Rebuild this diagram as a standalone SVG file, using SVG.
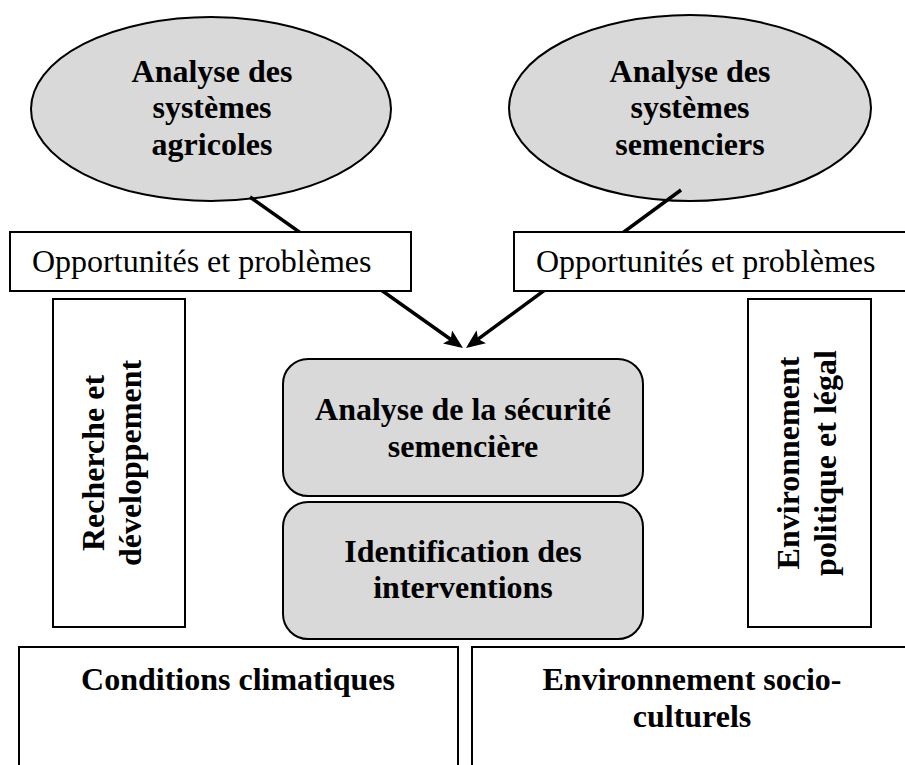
<svg xmlns="http://www.w3.org/2000/svg" width="905" height="765" viewBox="0 0 905 765">
<style>
.b{font-family:"Liberation Serif","Times New Roman",serif;font-weight:bold;font-size:32px;fill:#000;text-anchor:middle}
.r{font-family:"Liberation Serif","Times New Roman",serif;font-size:32px;fill:#000}
.oval{fill:#d9d9d9;stroke:#000;stroke-width:2}
.box{fill:#fff;stroke:#000;stroke-width:2}
.rr{fill:#d9d9d9;stroke:#000;stroke-width:2}
.con{stroke:#000;stroke-width:3.5;fill:none}
</style>
<defs>
<marker id="ah" viewBox="0 0 19 16" refX="15" refY="8" markerWidth="19" markerHeight="16" orient="auto" markerUnits="userSpaceOnUse">
<path d="M0,0 L19,8 L0,16 L4,8 z" fill="#000"/>
</marker>
</defs>
<rect width="905" height="765" fill="#fff"/>
<g id="n-agricoles">
<ellipse class="oval" cx="211" cy="109" rx="180" ry="92"/>
<text class="b" x="212" y="82">Analyse des</text>
<text class="b" x="212" y="118">systèmes</text>
<text class="b" x="212" y="155">agricoles</text>
</g>
<g id="n-semenciers">
<ellipse class="oval" cx="690" cy="108" rx="181" ry="93"/>
<text class="b" x="690" y="82">Analyse des</text>
<text class="b" x="690" y="118">systèmes</text>
<text class="b" x="690" y="155">semenciers</text>
</g>
<g id="connectors">
<line class="con" x1="250" y1="197" x2="459.7" y2="345.7" marker-end="url(#ah)"/>
<line class="con" x1="681" y1="190" x2="469.2" y2="345.6" marker-end="url(#ah)"/>
</g>
<g id="n-opp1">
<rect class="box" x="10" y="232" width="401" height="59"/>
<text class="r" x="32" y="272">Opportunités et problèmes</text>
</g>
<g id="n-opp2">
<rect class="box" x="514" y="232" width="400" height="59"/>
<text class="r" x="536" y="272">Opportunités et problèmes</text>
</g>
<g id="n-recherche">
<rect class="box" x="53" y="299" width="132" height="328"/>
<text class="b" transform="translate(104,463) rotate(-90)">Recherche et</text>
<text class="b" transform="translate(141,463) rotate(-90)">développement</text>
</g>
<g id="n-politique">
<rect class="box" x="748" y="299" width="123" height="328"/>
<text class="b" transform="translate(799,463) rotate(-90)">Environnement</text>
<text class="b" transform="translate(836,463) rotate(-90)">politique et légal</text>
</g>
<g id="n-securite">
<rect class="rr" x="283" y="359" width="360" height="137" rx="25" ry="25"/>
<text class="b" x="463" y="420">Analyse de la sécurité</text>
<text class="b" x="463" y="457">semencière</text>
</g>
<g id="n-interventions">
<rect class="rr" x="283" y="502" width="360" height="137" rx="25" ry="25"/>
<text class="b" x="463" y="562">Identification des</text>
<text class="b" x="463" y="598">interventions</text>
</g>
<g id="n-climat">
<rect class="box" x="19" y="647" width="439" height="130"/>
<text class="b" x="238" y="690">Conditions climatiques</text>
</g>
<g id="n-socio">
<rect class="box" x="472" y="647" width="445" height="130"/>
<text class="b" x="692" y="690">Environnement socio-</text>
<text class="b" x="692" y="727">culturels</text>
</g>
</svg>
